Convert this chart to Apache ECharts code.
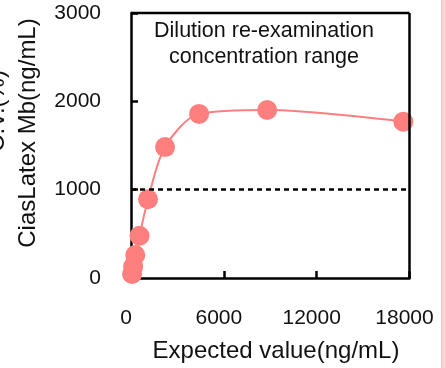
<!DOCTYPE html>
<html>
<head>
<meta charset="utf-8">
<script src="https://cdn.jsdelivr.net/npm/echarts@6/dist/echarts.min.js"></script>
<style>
  html, body { margin: 0; padding: 0; background: #ffffff; }
  #chart { width: 446px; height: 368px; }
</style>
</head>
<body>
<div id="chart"></div>
<script>
// Expected concentration of each dilution step (ng/mL)
const expectedValues = [68.75, 137.5, 275, 550, 1100, 2200, 4400, 8800, 17600];
// Measured CiasLatex Mb concentration (ng/mL)
const measuredValues = [45, 128, 260, 478, 892, 1482, 1858, 1902, 1770];
// Upper limit above which samples are diluted and re-measured
const rangeLimit = [1000];
const xTicks = [0, 6000, 12000, 18000];
const yTicks = [0, 1000, 2000, 3000];

const FONT = '"Liberation Sans", Arial, sans-serif';
const RED = '#ff7f7f';
const TEXT = '#111111';

const points = expectedValues.map((x, i) => [x, measuredValues[i]]);

const chart = echarts.init(document.getElementById('chart'), null, { renderer: 'canvas' });

chart.setOption({
  animation: false,
  backgroundColor: '#ffffff',
  grid: { left: 131, right: 36.5, top: 13, bottom: 90, show: false },
  xAxis: {
    type: 'value',
    min: xTicks[0],
    max: xTicks[xTicks.length - 1],
    interval: 6000,
    axisLine: { show: true, onZero: false, lineStyle: { color: '#000', width: 2.5 } },
    axisTick: { show: true, inside: true, length: 7, lineStyle: { color: '#000', width: 2.5 } },
    axisLabel: {
      fontFamily: FONT, fontSize: 21, color: TEXT, margin: 30,
      padding: [0, 10, 0, 0],
      formatter: v => String(v)
    },
    splitLine: { show: false }
  },
  yAxis: {
    type: 'value',
    min: yTicks[0],
    max: yTicks[yTicks.length - 1],
    interval: 1000,
    axisLine: { show: true, lineStyle: { color: '#000', width: 2.5 } },
    axisTick: { show: true, inside: true, length: 7, lineStyle: { color: '#000', width: 2.5 } },
    axisLabel: {
      fontFamily: FONT, fontSize: 21, color: TEXT, margin: 30,
      padding: [8, 0, 0, 0],
      formatter: v => String(v)
    },
    splitLine: { show: false }
  },
  graphic: [
    // Frame: top and right edges of the plot box
    { type: 'line', shape: { x1: 131, y1: 13, x2: 409.5, y2: 13 }, style: { stroke: '#000', lineWidth: 2.5 }, z: 10 },
    { type: 'line', shape: { x1: 409.5, y1: 13, x2: 409.5, y2: 278 }, style: { stroke: '#000', lineWidth: 2.5 }, z: 10 },
    // Axis titles
    {
      type: 'text', x: 276, y: 351,
      style: { text: 'Expected value(ng/mL)', fontFamily: FONT, fontSize: 24, fill: TEXT, align: 'center', verticalAlign: 'middle' }
    },
    {
      type: 'text', x: 28, y: 133, rotation: Math.PI / 2,
      style: { text: 'CiasLatex Mb(ng/mL)', fontFamily: FONT, fontSize: 24, fill: TEXT, align: 'center', verticalAlign: 'middle' }
    },
    // Neighbouring panel's axis title, clipped by the edge
    {
      type: 'text', x: -3, y: 111, rotation: Math.PI / 2,
      style: { text: 'C.V.(%)', fontFamily: FONT, fontSize: 24, fill: TEXT, align: 'center', verticalAlign: 'middle' }
    },
    // Pink strip at the right edge
    { type: 'rect', shape: { x: 441, y: 0, width: 5, height: 368 }, style: { fill: '#ffd0d0' }, z: 1 },
    { type: 'line', shape: { x1: 441.5, y1: 0, x2: 441.5, y2: 368 }, style: { stroke: '#f9c2c2', lineWidth: 1 }, z: 1 },
    // Annotation
    {
      type: 'text', x: 264, y: 44,
      style: {
        text: 'Dilution re-examination\nconcentration range',
        fontFamily: FONT, fontSize: 21.5, fill: TEXT,
        align: 'center', verticalAlign: 'middle', lineHeight: 26
      }
    }
  ],
  series: [
    {
      type: 'line',
      data: points,
      smooth: 0.3,
      symbol: 'circle',
      symbolSize: 20,
      lineStyle: { color: RED, width: 2 },
      itemStyle: { color: RED },
      z: 3,
      markLine: {
        silent: true,
        symbol: ['none', 'none'],
        label: { show: false },
        lineStyle: { color: '#000', type: [5, 4], width: 2.5 },
        data: [{ yAxis: rangeLimit[0] }],
        z: 5
      }
    }
  ]
});
</script>
</body>
</html>
